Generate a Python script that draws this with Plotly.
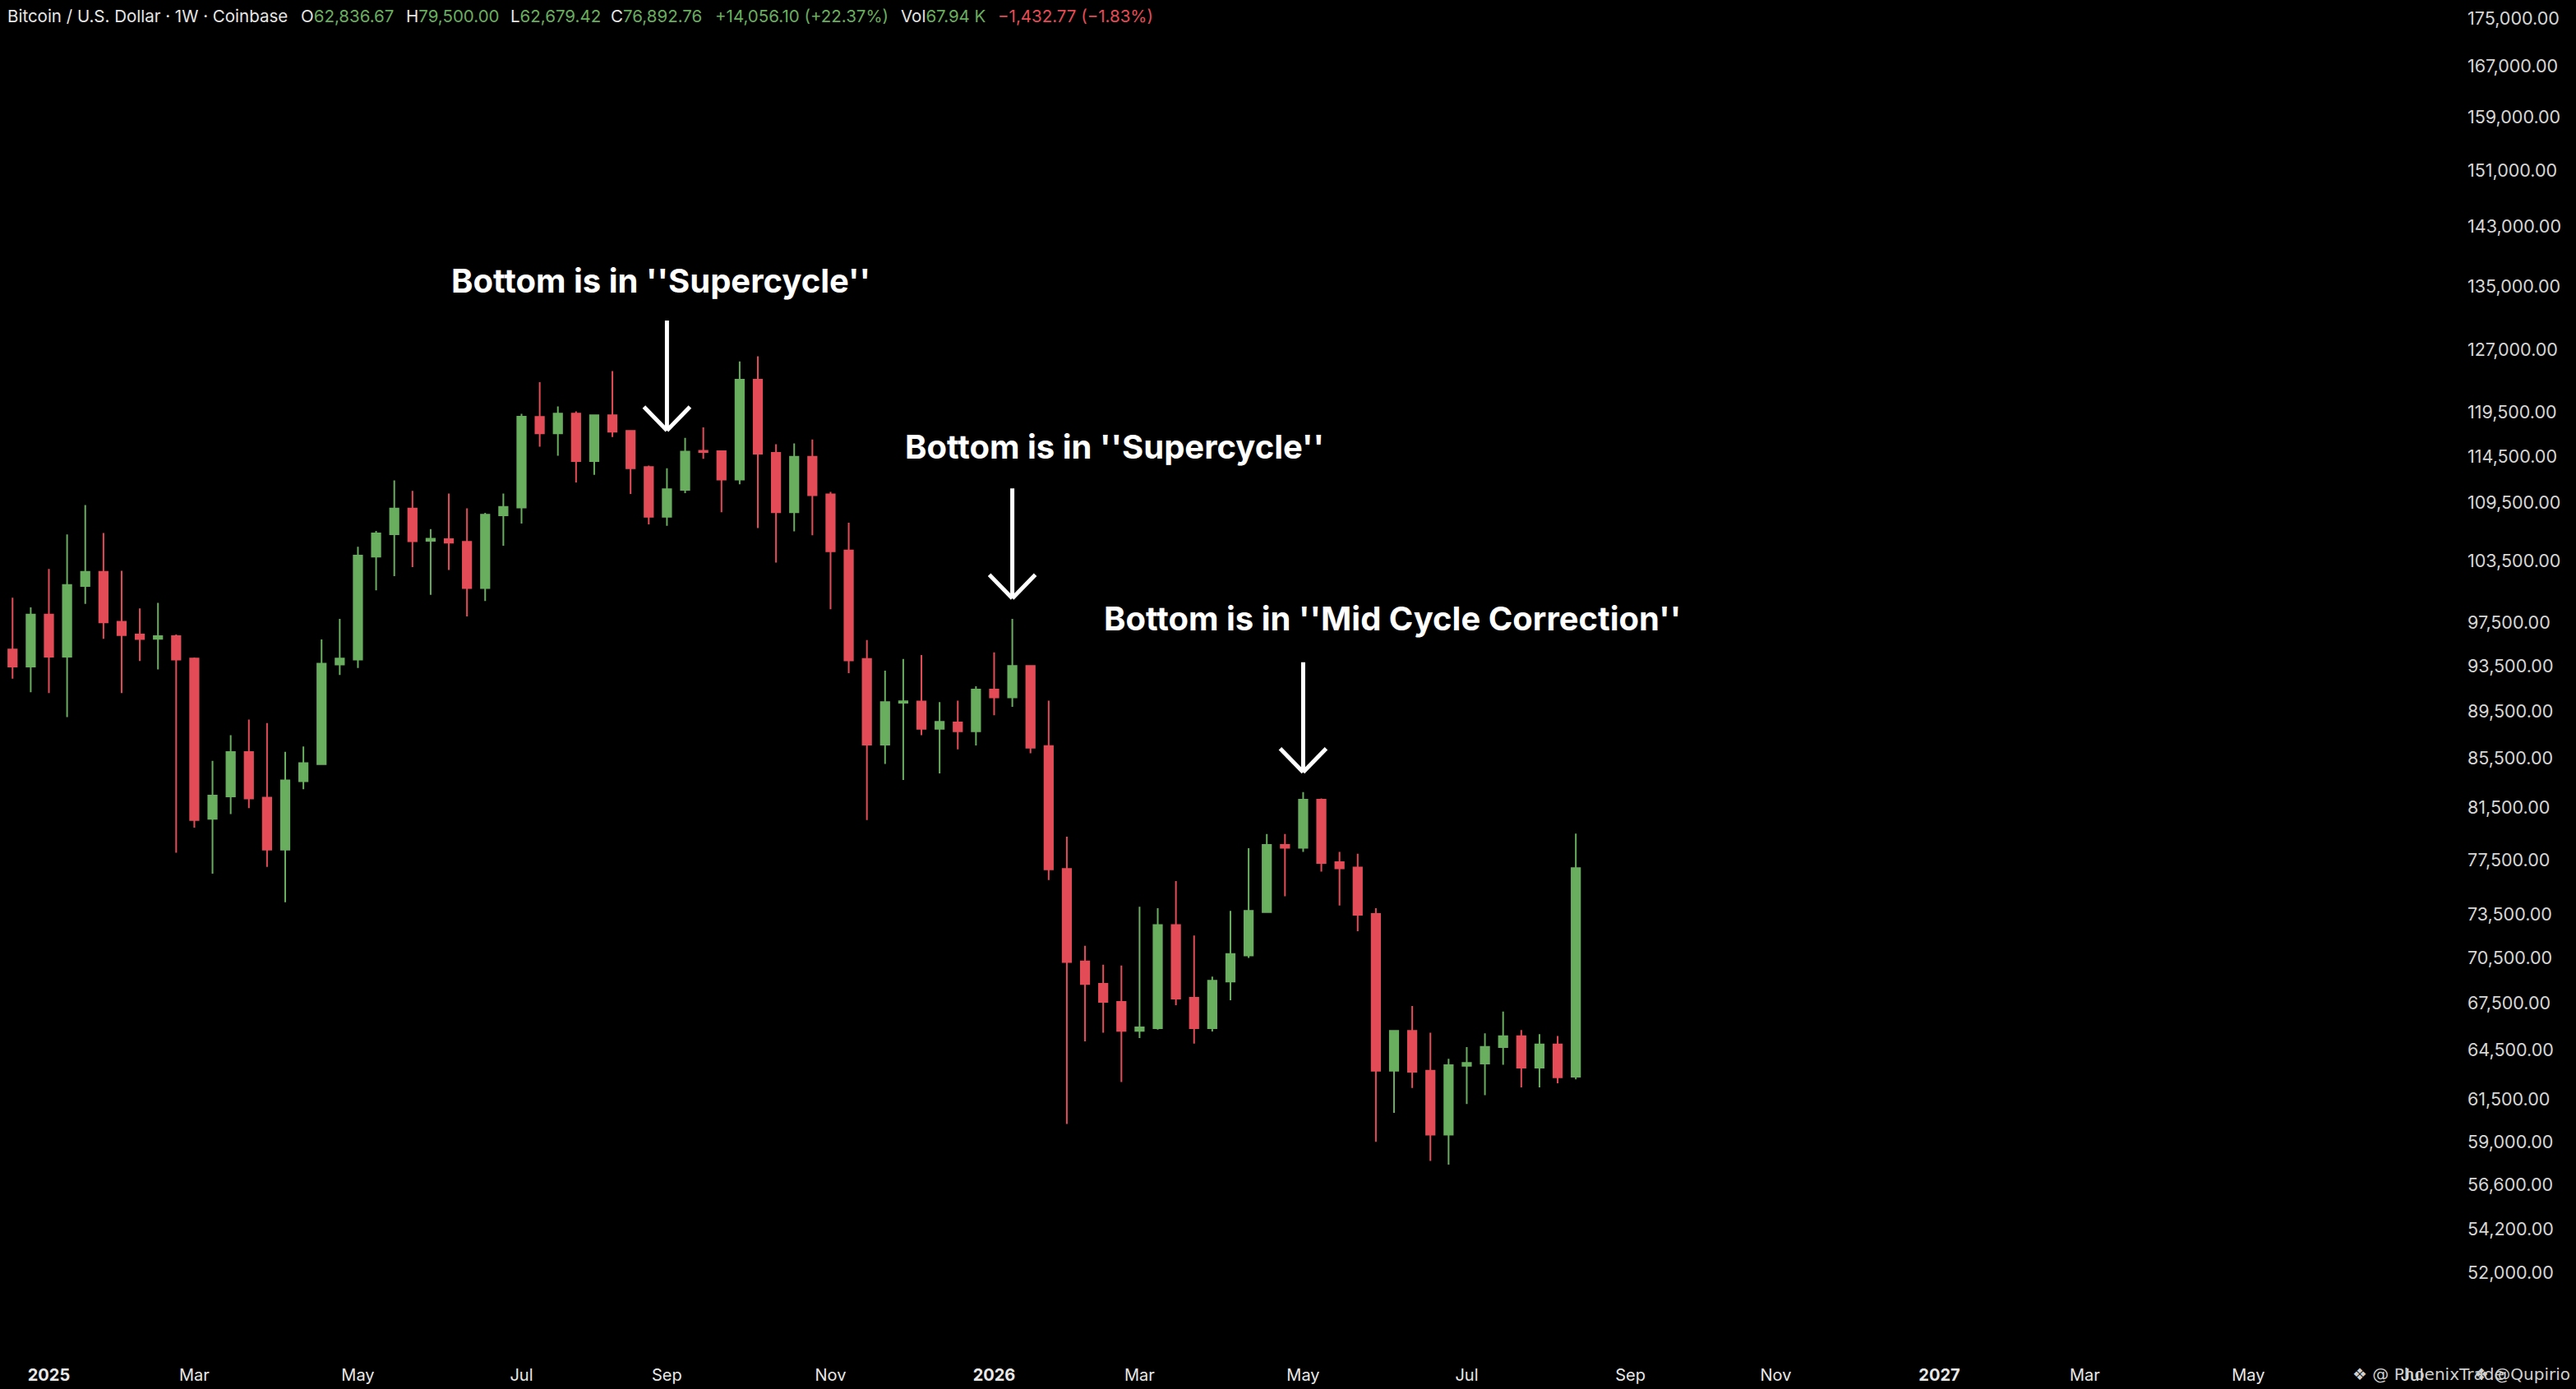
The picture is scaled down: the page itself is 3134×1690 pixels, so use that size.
import math
import pandas as pd
import plotly.graph_objects as go

# ---------------- data (weekly BTC/USD candles) ----------------
dates = pd.date_range("2024-12-16", periods=88, freq="7D")

opens = [104384, 94998, 93441, 98254, 94333, 101016, 102406, 97582, 96390, 95992,
         96229, 94176, 80638, 82418, 86019, 82307, 78272, 83638, 85022, 93632,
         94080, 103921, 106215, 108868, 105535, 105709, 105428, 100809, 108162, 108980,
         118981, 117096, 119345, 113993, 119167, 117376, 113338, 108015, 110872, 115127,
         115090, 111966, 123341, 114916, 108481, 114468, 110393, 104558, 94124, 86651,
         90229, 90335, 87983, 88527, 87764, 91390, 90693, 93500, 86515, 76829,
         70249, 68747, 67548, 65686, 65856, 72769, 67815, 65856, 68897, 70656,
         73678, 78629, 78416, 82144, 77332, 76926, 73545, 63205, 65686, 63205,
         59412, 63507, 63646, 64658, 65342, 63389, 64828, 62836.67]
highs = [106500, 99878, 98946, 102695, 106181, 109239, 106327, 102513, 98843, 99392,
         96390, 94264, 85286, 87446, 88767, 88463, 86047, 86495, 95931, 97850,
         104923, 106551, 111877, 110747, 106740, 110480, 108903, 108420, 110480, 119317,
         123040, 120186, 119625, 119167, 124379, 117376, 113508, 113204, 116593, 117768,
         115090, 125536, 126152, 115874, 115962, 116406, 110649, 107395, 95870, 93081,
         94124, 94493, 90278, 90412, 91677, 94730, 97858, 93500, 90412, 79256,
         71323, 70027, 69971, 74066, 73968, 75926, 72039, 69231, 73776, 78378,
         79462, 79462, 82751, 82248, 78103, 77959, 73968, 65686, 67281, 65563,
         63939, 64658, 65532, 66923, 65737, 65481, 65358, 79500.00]
lows = [92300, 92353, 91148, 91082, 88979, 99289, 95992, 91082, 93948, 93184,
        78046, 79952, 76474, 81010, 81486, 76974, 74384, 82986, 85022, 92676,
        93316, 100602, 101978, 102877, 100156, 102588, 98079, 99567, 105030, 107300,
        115594, 114576, 111662, 112487, 116667, 110428, 107231, 107068, 110523, 114235,
        108481, 111455, 106835, 103325, 106499, 106107, 98763, 92853, 80540, 85035,
        83739, 87439, 84261, 86257, 86569, 89148, 89876, 85924, 76000, 60029,
        65018, 65563, 62513, 65224, 65768, 67334, 64879, 65650, 67655, 70489,
        73678, 74817, 78103, 76624, 74159, 72330, 59004, 60679, 62153, 57917,
        57707, 61200, 61723, 63559, 62188, 62188, 62434, 62679.42]
closes = [94952, 93441, 98254, 94333, 101119, 102406, 97521, 96328, 95961, 96229,
          94080, 80553, 82477, 86019, 82249, 78272, 83698, 85110, 93698, 94176,
          104028, 106292, 108868, 105494, 105751, 105353, 100809, 108231, 109058, 118990,
          117096, 119345, 113993, 119167, 117274, 113204, 108015, 110935, 115053, 114988,
          111966, 123341, 114818, 108481, 114468, 110299, 104459, 94007, 86651, 90278,
          90363, 87983, 88576, 87764, 91390, 90693, 93500, 86386, 76799, 70210,
          68730, 67548, 65686, 65907, 72769, 67762, 65856, 68953, 70750, 73776,
          78629, 78416, 82144, 77269, 76865, 73487, 63205, 65686, 63140, 59412,
          63543, 63682, 64674, 65342, 63389, 64828, 62795, 76892.76]

y_ticks = [175000, 167000, 159000, 151000, 143000, 135000, 127000, 119500, 114500,
           109500, 103500, 97500, 93500, 89500, 85500, 81500, 77500, 73500, 70500,
           67500, 64500, 61500, 59000, 56600, 54200, 52000]
y_labels = [f"{v:,.2f}" for v in y_ticks]

x_tick_dates = ["2025-01-06", "2025-03-03", "2025-05-05", "2025-07-07", "2025-09-01",
                "2025-11-03", "2026-01-05", "2026-03-02", "2026-05-04", "2026-07-06",
                "2026-09-07", "2026-11-02", "2027-01-04", "2027-03-01", "2027-05-03",
                "2027-07-05"]
x_tick_labels = ["<b>2025</b>", "Mar", "May", "Jul", "Sep", "Nov", "<b>2026</b>", "Mar",
                 "May", "Jul", "Sep", "Nov", "<b>2027</b>", "Mar", "May", "Jul"]

# annotations: (arrow date, arrow tip price, label date, label price, text)
notes = [
    ("2025-09-01", 117400, "2025-08-29 15:00", 135700, "Bottom is in ''Supercycle''"),
    ("2026-01-12", 99800, "2026-02-20 09:00", 115550, "Bottom is in ''Supercycle''"),
    ("2026-05-04", 84350, "2026-06-07 12:00", 97930, "Bottom is in ''Mid Cycle Correction''"),
]

header = [
    (7, "Bitcoin / U.S. Dollar · 1W · Coinbase", None),
    (364, "O", "62,836.67"),
    (492, "H", "79,500.00"),
    (619, "L", "62,679.42"),
    (741, "C", "76,892.76"),
    (868, "", "+14,056.10 (+22.37%)"),
    (1094, "Vol", "67.94 K"),
    (1212, "", "−1,432.77 (−1.83%)"),
]

# ---------------- styling ----------------
UP = "#69ad5f"
DOWN = "#e34c56"
BG = "#000000"
W, H = 3134, 1690
R_MARGIN, B_MARGIN = 139, 40
plot_w = W - R_MARGIN
plot_h = H - B_MARGIN
px_per_day = 22.115 / 7
x_left = pd.Timestamp("2025-01-06") - pd.Timedelta(days=59.5 / px_per_day)
x_right = x_left + pd.Timedelta(days=plot_w / px_per_day)
y_range = [math.log10(47950), math.log10(178088)]

fig = go.Figure()
fig.add_trace(go.Candlestick(
    x=dates, open=opens, high=highs, low=lows, close=closes,
    increasing=dict(line=dict(color=UP, width=2), fillcolor=UP),
    decreasing=dict(line=dict(color=DOWN, width=2), fillcolor=DOWN),
    whiskerwidth=0, showlegend=False, hoverinfo="skip",
))

annotations = []
shapes = []
for adate, tip, ldate, lprice, text in notes:
    annotations.append(dict(
        x=ldate, y=math.log10(lprice), xref="x", yref="y", text=text, showarrow=False,
        xanchor="center", yanchor="middle",
        font=dict(family="Inter", size=40, color="#ffffff", weight="bold"),
    ))
    for x0, y0, x1, y1 in [(0, 0, 0, 134), (-28, 29, 0, 0), (28, 29, 0, 0)]:
        shapes.append(dict(
            type="line", xref="x", yref="y", xsizemode="pixel", ysizemode="pixel",
            xanchor=adate, yanchor=tip, x0=x0, x1=x1, y0=y0, y1=y1,
            line=dict(color="#ffffff", width=5),
        ))

for px, label, value in header:
    if value is None:
        txt = label
    elif label:
        txt = f'{label}<span style="color:{UP}">{value}</span>'
    else:
        col = DOWN if value.startswith("−") else UP
        txt = f'<span style="color:{col}">{value}</span>'
    annotations.append(dict(
        x=px / plot_w, y=1 - 20 / plot_h, xref="paper", yref="paper", text=txt,
        showarrow=False, xanchor="left", yanchor="middle",
        font=dict(family="Inter", size=20.5, color="#e6e6e6"),
    ))

# watermark (two overlapping credits, as in the source image)
for px, txt in [(2860, "❖ @ PhoenixTrade"), (3008, "❖ @Qupirio")]:
    annotations.append(dict(
        x=px / plot_w, y=-(1672 - plot_h) / plot_h, xref="paper", yref="paper", text=txt,
        showarrow=False, xanchor="left", yanchor="middle",
        font=dict(family="DejaVu Sans", size=20, color="#d0d0d0"),
    ))

fig.update_layout(
    width=W, height=H,
    paper_bgcolor=BG, plot_bgcolor=BG,
    margin=dict(l=0, r=R_MARGIN, t=0, b=B_MARGIN),
    boxgap=0.34,
    showlegend=False,
    annotations=annotations,
    shapes=shapes,
    xaxis=dict(
        type="date", range=[x_left, x_right], rangeslider=dict(visible=False),
        tickmode="array", tickvals=x_tick_dates, ticktext=x_tick_labels,
        tickfont=dict(family="Inter", size=20, color="#e8e8e8"),
        showgrid=False, zeroline=False, showline=False, ticks="",
        ticklabelstandoff=9,
    ),
    yaxis=dict(
        type="log", side="right", range=y_range,
        tickmode="array", tickvals=y_ticks, ticktext=y_labels,
        tickfont=dict(family="Inter", size=21.5, color="#d6d6d6"),
        showgrid=False, zeroline=False, showline=False, ticks="",
        ticklabelstandoff=6,
    ),
)

fig.write_html(
    "out.html",
    config={"displayModeBar": False},
    post_script=(
        "document.documentElement.style.margin='0';"
        "document.body.style.margin='0';"
        "document.body.style.background='#000';"
        "document.documentElement.style.background='#000';"
        "document.body.style.overflow='hidden';"
    ),
)
